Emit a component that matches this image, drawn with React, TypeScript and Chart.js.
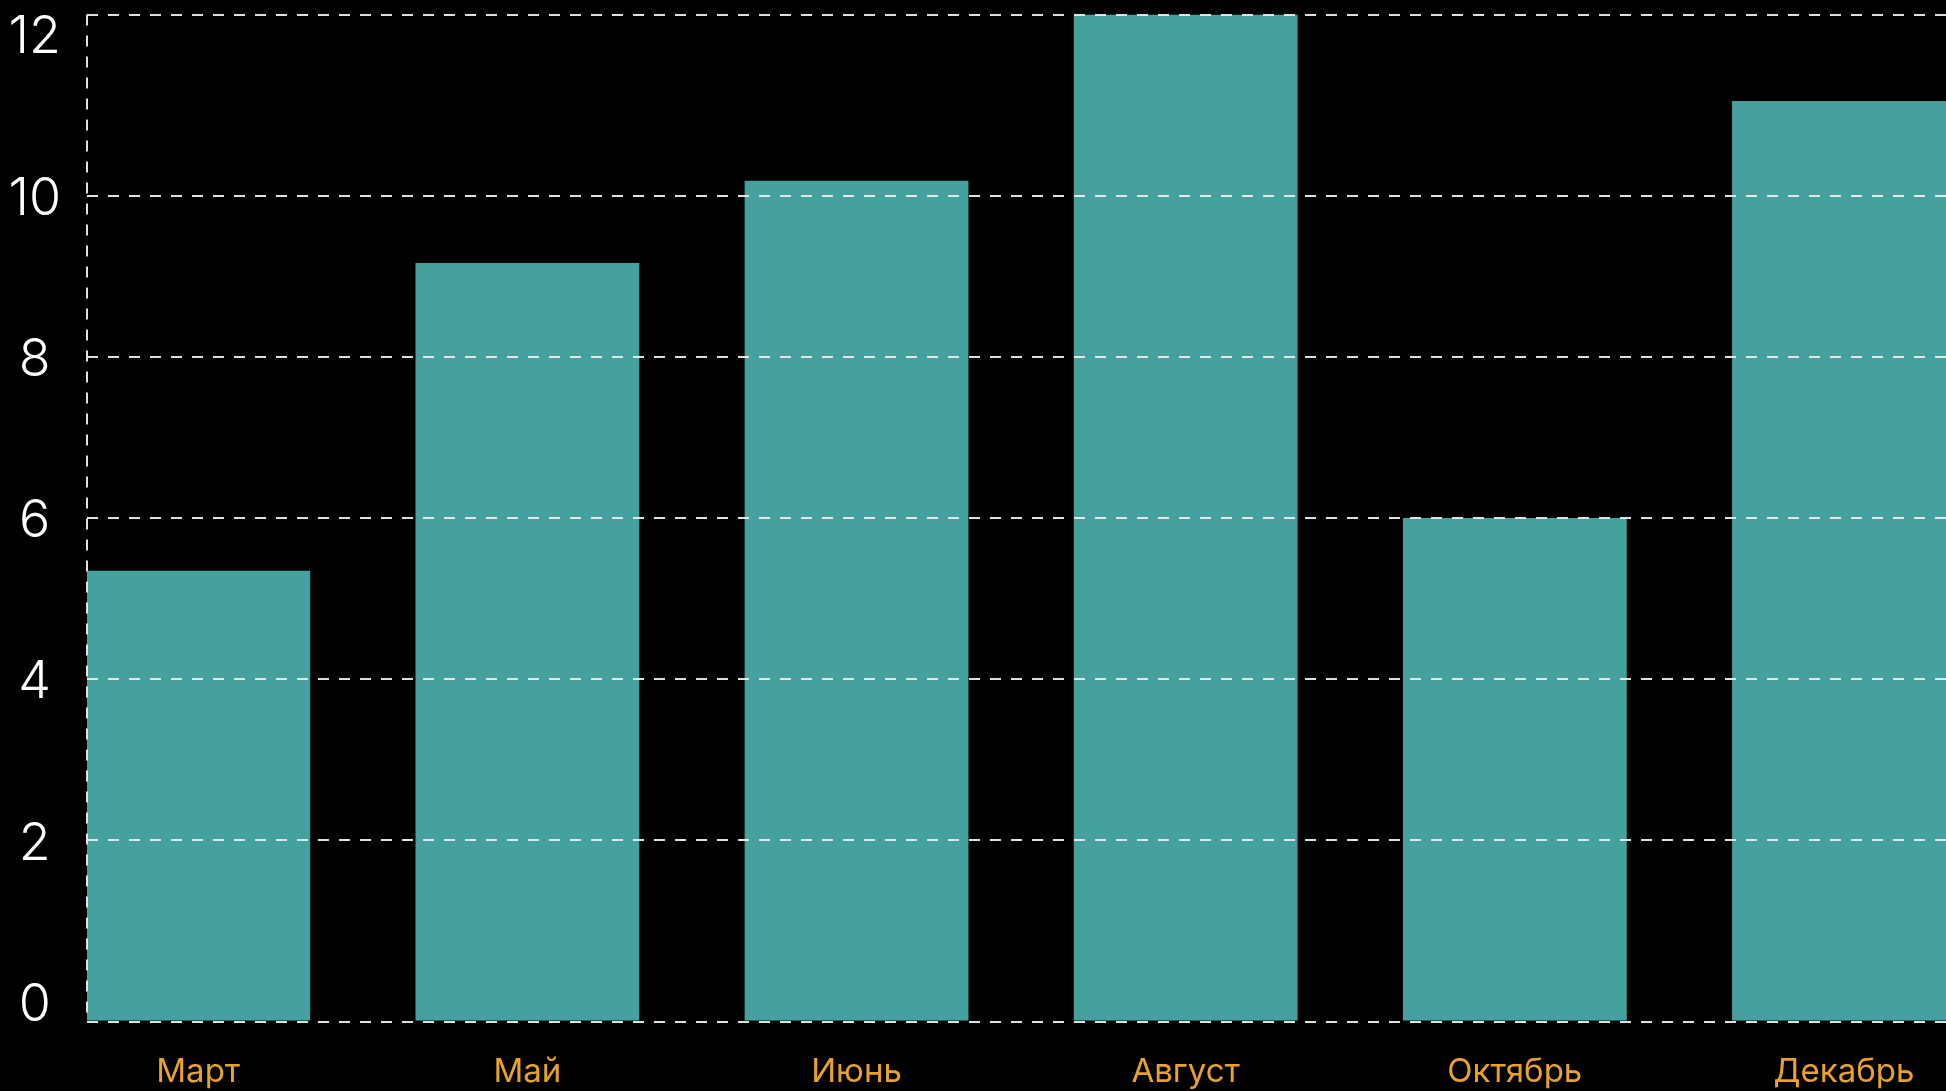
import React, { useEffect, useRef } from "react";
import { Chart, registerables } from "chart.js";

Chart.register(...registerables);

const months = ["Март", "Май", "Июнь", "Август", "Октябрь", "Декабрь"];
const values = [5.37, 9.04, 10.02, 12, 6.0, 10.97];
const yTickValues = [0, 2, 4, 6, 8, 10, 12];

const BAR_COLOR = "#44A19D";
const GRID_COLOR = "rgba(235,235,235,0.95)";
const LABEL_ORANGE = "#E9A22C";
const DASH = [11, 10];

export default function App() {
  const ref = useRef<HTMLCanvasElement | null>(null);

  useEffect(() => {
    if (!ref.current) return;
    const chart = new Chart(ref.current, {
      type: "bar",
      data: {
        datasets: [
          {
            data: months.map((_, i) => ({ x: i, y: values[i] })),
            backgroundColor: BAR_COLOR,
            borderWidth: 0,
            categoryPercentage: 0.68,
            barPercentage: 1,
          },
        ],
      },
      options: {
        animation: false,
        responsive: false,
        maintainAspectRatio: false,
        layout: { padding: { top: 14.5, right: 0, bottom: 0, left: 0 } },
        plugins: { legend: { display: false }, tooltip: { enabled: false } },
        scales: {
          x: {
            type: "linear",
            position: "bottom",
            min: -0.338,
            max: 5.31,
            offset: false,
            weight: 1,
            grid: { display: false },
            border: { display: false },
            afterBuildTicks: (scale: any) => {
              scale.ticks = months.map((_, i) => ({ value: i }));
            },
            afterFit: (scale: any) => {
              scale.height = 69.5;
              scale.paddingLeft = 0;
              scale.paddingRight = 0;
            },
            ticks: {
              autoSkip: false,
              maxRotation: 0,
              minRotation: 0,
              padding: 22.5,
              color: LABEL_ORANGE,
              font: { family: "Inter, 'Open Sans', sans-serif", size: 33, weight: 400 },
              callback: (v: any) => months[v as number] ?? "",
            },
          },
          xEdge: {
            type: "linear",
            position: "bottom",
            min: 0,
            max: 1,
            weight: 0,
            offset: false,
            afterBuildTicks: (scale: any) => {
              scale.ticks = [{ value: 0 }, { value: 1 }];
            },
            afterFit: (scale: any) => {
              scale.height = 0;
              scale.paddingLeft = 0;
              scale.paddingRight = 0;
            },
            ticks: { display: false },
            grid: {
              offset: false,
              lineWidth: 2,
              drawTicks: false,
              z: 1,
              color: (ctx: any) => (ctx.index === 0 ? GRID_COLOR : "rgba(0,0,0,0)"),
            },
            border: { display: false, dash: DASH },
          },
          y: {
            type: "linear",
            position: "left",
            min: 0,
            max: 12,
            weight: 0,
            afterBuildTicks: (scale: any) => {
              scale.ticks = [{ value: 0 }, { value: 12 }];
            },
            afterFit: (scale: any) => {
              scale.width = 0;
              scale.paddingTop = 0;
              scale.paddingBottom = 0;
            },
            ticks: { display: false },
            grid: {
              color: GRID_COLOR,
              lineWidth: 2,
              drawTicks: false,
              z: 1,
            },
            border: { display: false, dash: DASH },
          },
          yLabels: {
            type: "linear",
            position: "left",
            min: -0.245,
            max: 12.245,
            weight: 1,
            afterBuildTicks: (scale: any) => {
              scale.ticks = yTickValues.map((v) => ({ value: v }));
            },
            afterFit: (scale: any) => {
              scale.width = 87;
              scale.paddingTop = 0;
              scale.paddingBottom = 0;
            },
            ticks: {
              color: "#ffffff",
              crossAlign: "center",
              padding: 26,
              labelOffset: 3.5,
              font: { family: "Inter, 'Open Sans', sans-serif", size: 52, weight: 300 },
            },
            grid: {
              drawTicks: false,
              lineWidth: 2,
              z: 1,
              color: (ctx: any) =>
                ctx.tick && (ctx.tick.value === 0 || ctx.tick.value === 12)
                  ? "rgba(0,0,0,0)"
                  : GRID_COLOR,
            },
            border: { display: false, dash: DASH },
          },
        },
      } as any,
    });
    return () => chart.destroy();
  }, []);

  return (
    <div
      style={{
        position: "fixed",
        left: 0,
        top: 0,
        width: 1946,
        height: 1091,
        background: "#000",
        overflow: "hidden",
      }}
    >
      <canvas ref={ref} width={1946} height={1091} style={{ width: 1946, height: 1091, display: "block" }} />
    </div>
  );
}
